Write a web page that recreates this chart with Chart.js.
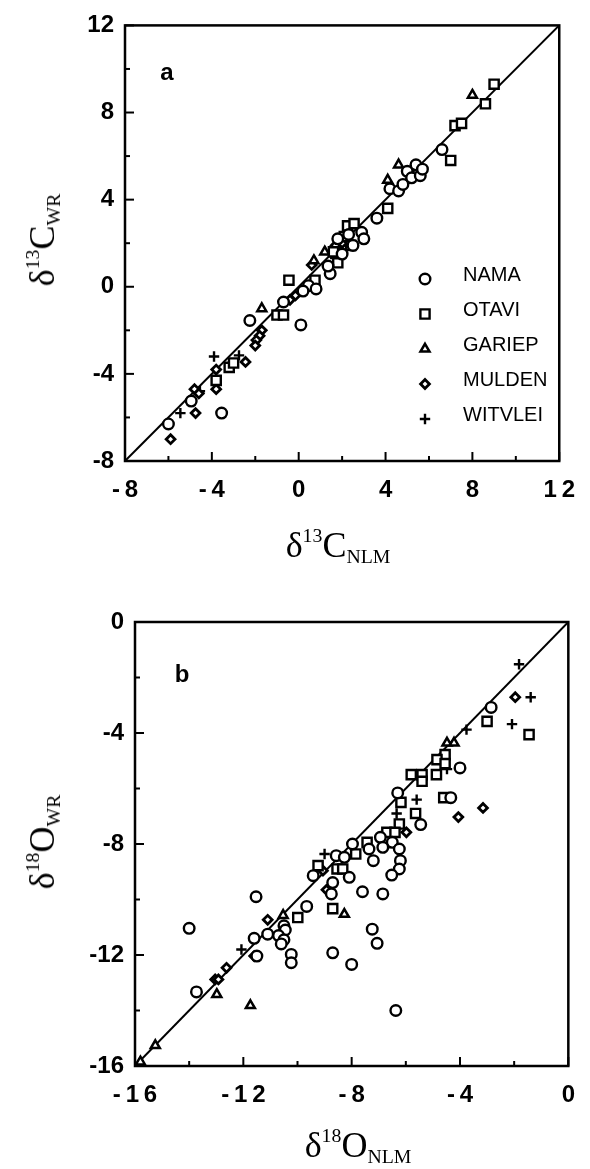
<!DOCTYPE html>
<html>
<head>
<meta charset="utf-8">
<script src="https://cdn.jsdelivr.net/npm/chart.js@4/dist/chart.umd.min.js"></script>
<style>
  html, body { margin: 0; padding: 0; background: #fff; }
  #wrap { position: relative; width: 590px; height: 1169px; overflow: hidden; }
  canvas { position: absolute; left: 0; }
  #cA { top: 0; }
  #cB { top: 580px; }
  .t { position: absolute; font-family: "Liberation Serif", "Times New Roman", serif; font-size: 36px;
       color: #000; white-space: nowrap; line-height: 1; }
  .t .sp { font-size: 0.55em; position: relative; top: -0.75em; }
  .t .sb { font-size: 0.55em; position: relative; top: 0.3em; }
  .ctr { transform: translate(-50%, -50%); }
  .rot { transform: translate(-50%, -50%) rotate(-90deg); }
  .pl { position: absolute; font-family: "Liberation Sans", Arial, sans-serif; font-weight: bold;
        font-size: 24px; line-height: 1; transform: translate(-50%, -50%); }
</style>
</head>
<body>
<div id="wrap">
  <canvas id="cA" width="590" height="580"></canvas>
  <canvas id="cB" width="590" height="589"></canvas>

  <div class="pl" style="left:167px; top:72px;">a</div>
  <div class="pl" style="left:182px; top:674px;">b</div>

  <div class="t rot" style="left:42px; top:240px;">&delta;<span class="sp">13</span>C<span class="sb">WR</span></div>
  <div class="t ctr" style="left:338px; top:545px;">&delta;<span class="sp">13</span>C<span class="sb">NLM</span></div>
  <div class="t rot" style="left:42px; top:842px;">&delta;<span class="sp">18</span>O<span class="sb">WR</span></div>
  <div class="t ctr" style="left:358px; top:1145px;">&delta;<span class="sp">18</span>O<span class="sb">NLM</span></div>
</div>

<script>
// --- panel a : d13C (WR vs NLM) ---
const namaAx    = [-6.0, -4.95, -3.55, -2.25, 0.1, -0.7, 0.45, 0.8, 0.2, 1.45, 1.35, 2.0, 2.5, 2.9, 3.0, 3.6, 4.2, 4.6, 4.8, 5.0, 5.2, 5.4, 5.6, 5.7, 6.6, 2.3, 1.8];
const namaAy    = [-6.3, -5.25, -5.8, -1.55, -1.75, -0.7, 0.05, -0.1, -0.2, 0.6, 0.95, 1.5, 1.9, 2.5, 2.2, 3.15, 4.5, 4.4, 4.7, 5.3, 5.0, 5.6, 5.1, 5.4, 6.3, 2.4, 2.2];
const otaviAx   = [9.0, 8.6, 7.2, 7.5, 7.0, 4.1, 2.25, 2.55, 1.8, 1.6, 2.4, 2.1, -0.45, 0.75, -1.0, -0.7, -3.2, -3.0, -3.8];
const otaviAy   = [9.3, 8.4, 7.4, 7.5, 5.8, 3.6, 2.8, 2.9, 1.1, 1.6, 1.9, 2.3, 0.3, 0.3, -1.3, -1.3, -3.7, -3.5, -4.3];
const gariepAx  = [8.0, 4.6, 4.1, 1.2, 0.7, -1.7];
const gariepAy  = [8.8, 5.6, 4.9, 1.6, 1.2, -1.0];
const muldenAx  = [-5.9, -4.75, -4.8, -4.6, -3.8, -3.8, -2.45, -1.7, -1.8, -1.95, -2.0, 0.6, 1.7, 2.0, 1.9, -0.15, -0.4];
const muldenAy  = [-7.0, -5.8, -4.7, -4.9, -4.7, -3.8, -3.45, -2.0, -2.25, -2.45, -2.7, 1.0, 1.9, 2.0, 1.6, -0.4, -0.6];
const witvleiAx = [-3.9, -5.45, -4.55, -2.75, 2.2, 1.5];
const witvleiAy = [-3.2, -5.8, -4.8, -3.15, 2.1, 1.5];

// --- panel b : d18O (WR vs NLM) ---
const namaBx    = [-2.85, -4.0, -4.34, -6.3, -5.45, -6.94, -6.5, -7.36, -6.85, -6.24, -6.2, -6.24, -6.52, -7.2, -8.57, -8.27, -9.42, -8.09, -8.7, -8.75, -7.6, -6.85, -11.53, -9.66, -10.5, -10.45, -10.7, -10.5, -10.6, -11.1, -11.6, -14.0, -7.24, -7.06, -8.7, -8.0, -10.23, -10.23, -11.5, -13.73, -6.37, -7.97];
const namaBy    = [-3.08, -5.26, -6.33, -6.16, -7.3, -7.76, -7.94, -8.18, -8.12, -8.18, -8.6, -8.9, -9.12, -8.6, -8.42, -8.48, -9.14, -9.2, -9.39, -9.8, -9.72, -9.8, -9.9, -10.25, -10.95, -11.1, -11.3, -11.45, -11.6, -11.25, -11.4, -11.04, -11.07, -11.58, -11.92, -12.34, -11.98, -12.28, -12.04, -13.33, -14.0, -8.0];
const otaviBx   = [-3.0, -1.45, -4.55, -4.85, -4.87, -5.4, -5.8, -5.4, -4.6, -6.18, -5.64, -6.24, -6.7, -6.4, -7.43, -7.85, -8.54, -8.33, -9.24, -8.7, -9.99, -4.55];
const otaviBy   = [-3.58, -4.06, -4.78, -4.96, -5.5, -5.5, -5.5, -5.74, -6.33, -6.5, -6.9, -7.28, -7.58, -7.58, -7.94, -8.36, -8.9, -8.9, -8.78, -10.33, -10.65, -5.1];
const gariepBx  = [-4.48, -4.22, -8.27, -10.53, -12.98, -11.74, -15.25, -15.8];
const gariepBy  = [-4.36, -4.36, -10.53, -10.57, -13.42, -13.82, -15.26, -15.85];
const muldenBx  = [-1.96, -3.15, -4.06, -5.98, -6.8, -9.06, -8.93, -11.1, -11.6, -12.62, -13.04, -12.92];
const muldenBy  = [-2.71, -6.7, -7.03, -7.58, -8.12, -8.96, -9.65, -10.73, -12.04, -12.46, -12.88, -12.88];
const witvleiBx = [-1.82, -1.39, -2.08, -3.76, -4.48, -5.6, -6.34, -9.0, -12.07];
const witvleiBy = [-1.52, -2.71, -3.68, -3.88, -5.3, -6.4, -6.9, -8.36, -11.8];

const seriesNames = ["NAMA", "OTAVI", "GARIEP", "MULDEN", "WITVLEI"];

// axis ranges and labelled ticks
const rangeA = [-8, 12];
const rangeB = [-16, 0];
const tickValsA    = [-8, -4, 0, 4, 8, 12];
const xTickLabelsA = ["-\u20098", "-\u20094", "0", "4", "8", "1\u20092"];
const yTickLabelsA = ["-8", "-4", "0", "4", "8", "12"];
const tickValsB    = [-16, -12, -8, -4, 0];
const xTickLabelsB = ["-\u20091\u20096", "-\u20091\u20092", "-\u20098", "-\u20094", "0"];
const yTickLabelsB = ["-16", "-12", "-8", "-4", "0"];

// marker look per series
const styles  = ["circle", "rect", "triangle", "rectRot", "cross"];
const radii   = [5.3, 6.5, 5.2, 4.4, 5.2];
const borders = [2.4, 2.4, 2.5, 2.8, 2.4];

const zip = (xs, ys) => xs.map((x, i) => ({ x, y: ys[i] }));
const tickFont = { family: "'Liberation Sans', Arial, sans-serif", size: 24, weight: "bold" };

const frame = {
  id: "frame",
  afterDatasetsDraw(chart, args, opts) {
    const { ctx, chartArea: a, scales: { x, y } } = chart;
    ctx.save();
    ctx.strokeStyle = "#000";
    ctx.lineWidth = 2.5;
    ctx.strokeRect(a.left, a.top, a.right - a.left, a.bottom - a.top);
    ctx.lineWidth = 2;
    x.ticks.forEach(t => {
      const px = x.getPixelForValue(t.value);
      const len = t.value % 4 === 0 ? 9 : 5;
      ctx.beginPath(); ctx.moveTo(px, a.bottom); ctx.lineTo(px, a.bottom - len); ctx.stroke();
    });
    y.ticks.forEach(t => {
      const py = y.getPixelForValue(t.value);
      const len = t.value % 4 === 0 ? 9 : 5;
      ctx.beginPath(); ctx.moveTo(a.left, py); ctx.lineTo(a.left + len, py); ctx.stroke();
    });

    if (opts.legend) {
      seriesNames.forEach((name, i) => {
        const ty = opts.legendTop + i * opts.legendGap;
        ctx.fillStyle = "#fff";
        ctx.strokeStyle = "#000";
        ctx.lineWidth = borders[i];
        Chart.helpers.drawPoint(ctx, { pointStyle: styles[i], radius: radii[i], rotation: 0, borderWidth: borders[i] },
          opts.legendX, ty + 4);
        ctx.fillStyle = "#000";
        ctx.font = "20px 'Liberation Sans', Arial, sans-serif";
        ctx.textBaseline = "middle";
        ctx.textAlign = "left";
        ctx.fillText(name, opts.legendTextX, ty);
      });
    }
    ctx.restore();
  }
};

function buildChart(id, series, range, tickVals, xLabels, yLabels, pad, yW, legend) {
  const datasets = series.map((pts, i) => ({
    label: seriesNames[i],
    data: pts,
    pointStyle: styles[i],
    pointRadius: radii[i],
    pointBorderWidth: borders[i],
    pointBorderColor: "#000",
    pointBackgroundColor: "#fff",
    order: 1
  }));
  datasets.push({
    type: "line",
    label: "1:1",
    data: [{ x: range[0], y: range[0] }, { x: range[1], y: range[1] }],
    borderColor: "#000",
    borderWidth: 2,
    pointRadius: 0,
    order: 10
  });

  const axis = (labels, fit) => ({
    type: "linear",
    min: range[0],
    max: range[1],
    grid: { display: false, drawTicks: false },
    border: { display: false },
    ticks: {
      stepSize: 2,
      autoSkip: false,
      maxRotation: 0,
      color: "#000",
      font: tickFont,
      padding: fit === "x" ? 15 : 11,
      callback: v => {
        const k = tickVals.indexOf(v);
        return k >= 0 ? labels[k] : "";
      }
    },
    afterFit: s => { if (fit === "x") s.height = 60; else s.width = yW; }
  });

  return new Chart(document.getElementById(id), {
    type: "scatter",
    data: { datasets },
    options: {
      responsive: false,
      animation: false,
      devicePixelRatio: 1,
      layout: { padding: pad },
      scales: { x: axis(xLabels, "x"), y: axis(yLabels, "y") },
      plugins: {
        legend: { display: false },
        tooltip: { enabled: false },
        frame: legend || {}
      }
    },
    plugins: [frame]
  });
}

buildChart("cA",
  [zip(namaAx, namaAy), zip(otaviAx, otaviAy), zip(gariepAx, gariepAy), zip(muldenAx, muldenAy), zip(witvleiAx, witvleiAy)],
  rangeA, tickValsA, xTickLabelsA, yTickLabelsA,
  { left: 0, right: 21, top: 20, bottom: 59 }, 125,
  { legend: true, legendX: 425, legendTextX: 463, legendTop: 275, legendGap: 35 });

buildChart("cB",
  [zip(namaBx, namaBy), zip(otaviBx, otaviBy), zip(gariepBx, gariepBy), zip(muldenBx, muldenBy), zip(witvleiBx, witvleiBy)],
  rangeB, tickValsB, xTickLabelsB, yTickLabelsB,
  { left: 0, right: 14, top: 42, bottom: 43 }, 135,
  null);
</script>
</body>
</html>
